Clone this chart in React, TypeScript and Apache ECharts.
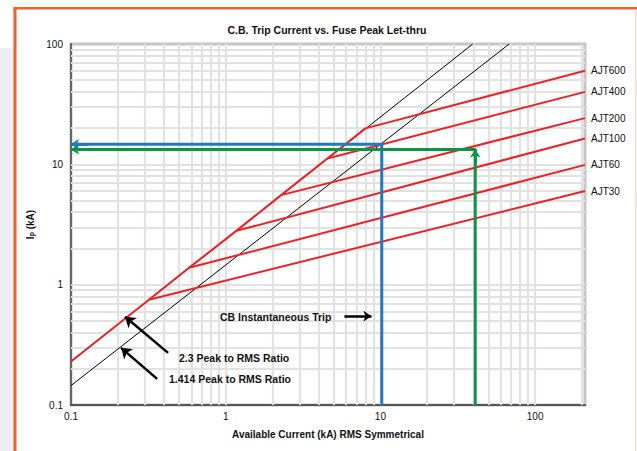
import React, { useEffect, useRef } from "react";
import * as echarts from "echarts";

// ---- data ----
const ajtNames = ["AJT600", "AJT400", "AJT200", "AJT100", "AJT60", "AJT30"];
const ajtBendX = [8.0, 4.54, 2.28, 1.17, 0.579, 0.319];
const ajtBendY = [19.9, 11.2, 5.55, 2.8, 1.38, 0.75];
const ajtEndX = 210;
const ajtEndY = [60, 40, 24.2, 16.4, 9.9, 6.0];
const envelopeStart = [0.1, 0.23];
const ratio23Line = [[0.1, 0.23], [39.5, 100]];
const ratio1414Line = [[0.1, 0.145], [68, 100]];
const blueTrip = [10.2, 14.7];
const greenTrip = [41, 13.3];
const xGridValues = [0.2, 0.3, 0.4, 0.5, 0.6, 0.7, 0.8, 0.9, 1, 2, 3, 4, 5, 6, 7, 8, 9, 10, 20, 30, 40, 50, 60, 70, 80, 90, 100, 200];
const yGridValues = [0.2, 0.3, 0.4, 0.5, 0.6, 0.7, 0.8, 0.9, 1, 2, 3, 4, 5, 6, 7, 8, 9, 10, 20, 30, 40, 50, 60, 70, 80, 90];
const arrow23 = [[0.424, 0.271], [0.2237, 0.541]];
const arrow1414 = [[0.3603, 0.1647], [0.2107, 0.2985]];
const arrowCB = [[5.85, 0.547], [8.75, 0.547]];

const FONT = "'Liberation Sans', Arial, sans-serif";
const RED = "#ec2227";
const BLUE = "#1f79c4";
const GREEN = "#0e9448";

export default function App() {
  const ref = useRef<HTMLDivElement>(null);
  useEffect(() => {
    if (!ref.current) return;
    const chart = echarts.init(ref.current, null, { renderer: "svg" });

    const envelope = [envelopeStart];
    for (let i = ajtBendX.length - 1; i >= 0; i--) envelope.push([ajtBendX[i], ajtBendY[i]]);

    const ajtSeries = ajtNames.map((name, i) => ({
      name,
      type: "line",
      z: 5,
      symbol: "none",
      data: [[ajtBendX[i], ajtBendY[i]], [ajtEndX, ajtEndY[i]]],
      lineStyle: { color: RED, width: 2 },
      endLabel: {
        show: true,
        formatter: "{a}",
        color: "#111",
        fontSize: 10,
        fontFamily: FONT,
        distance: 6,
      },
    }));

    const arrowLine = (pts: number[][], size: number) => [
      { coord: pts[0], symbol: "none" },
      { coord: pts[1], symbol: "arrow", symbolSize: size },
    ];

    const boldText = (text: string, x: number, y: number) => ({
      type: "text",
      x,
      y,
      z: 20,
      style: { text, fontFamily: FONT, fontWeight: "bold", fontSize: 10.5, fill: "#111", verticalAlign: "middle" },
    });

    chart.setOption({
      animation: false,
      backgroundColor: "#fff",
      grid: {
        left: 71,
        right: 52,
        top: 44,
        bottom: 46,
        show: true,
        borderColor: "#c6c6c6",
        borderWidth: 3,
        backgroundColor: "#fff",
      },
      xAxis: {
        type: "log",
        logBase: 10,
        min: 0.1,
        max: 210,
        name: "Available Current (kA) RMS Symmetrical",
        nameLocation: "middle",
        nameGap: 24,
        nameTextStyle: { fontFamily: FONT, fontWeight: "bold", fontSize: 10, color: "#111" },
        axisLine: { show: true, lineStyle: { color: "#555", width: 2 } },
        axisTick: { show: false },
        splitLine: { show: false },
        axisLabel: {
          fontFamily: FONT,
          fontSize: 10,
          color: "#111",
          margin: 6,
          showMaxLabel: false,
          formatter: (v: number) => String(v),
        },
      },
      yAxis: {
        type: "log",
        logBase: 10,
        min: 0.1,
        max: 100,
        name: "{a|I}{b|p}{a| (kA)}",
        nameLocation: "middle",
        nameRotate: 90,
        nameGap: 35,
        nameTextStyle: {
          fontFamily: FONT,
          color: "#111",
          rich: {
            a: { fontFamily: FONT, fontWeight: "bold", fontSize: 10, color: "#111" },
            b: { fontFamily: FONT, fontWeight: "bold", fontSize: 7, color: "#111", verticalAlign: "bottom" },
          },
        },
        axisLine: { show: true, lineStyle: { color: "#666", width: 2 } },
        axisTick: { show: false },
        splitLine: { show: false },
        axisLabel: {
          fontFamily: FONT,
          fontSize: 10,
          color: "#111",
          margin: 8,
          formatter: (v: number) => String(v),
        },
      },
      graphic: [
        { type: "rect", silent: true, shape: { x: 0, y: 48, width: 14, height: 403 }, style: { fill: "#eceef1" } },
        { type: "rect", silent: true, shape: { x: 13.5, y: 7, width: 3, height: 444 }, style: { fill: "#f0612b" } },
        { type: "rect", silent: true, shape: { x: 13.5, y: 7, width: 624, height: 2.5 }, style: { fill: "#f0612b" } },
        { type: "rect", silent: true, shape: { x: 635, y: 10, width: 1.5, height: 441 }, style: { fill: "#f6d8cf" } },
        {
          type: "text",
          x: 327,
          y: 30,
          style: {
            text: "C.B. Trip Current vs. Fuse Peak Let-thru",
            fontFamily: FONT,
            fontWeight: "bold",
            fontSize: 10.5,
            fill: "#111",
            align: "center",
            verticalAlign: "middle",
          },
        },
        boldText("CB Instantaneous Trip", 220, 317),
        boldText("2.3 Peak to RMS Ratio", 179, 358),
        boldText("1.414 Peak to RMS Ratio", 169, 379),
      ],
      series: [
        {
          name: "grid",
          type: "line",
          z: 1,
          data: [],
          markLine: {
            z: 1,
            silent: true,
            symbol: "none",
            label: { show: false },
            animation: false,
            lineStyle: { color: "#e2e2e2", width: 2.2, type: "solid" },
            data: [
              ...xGridValues.map((v) => ({ xAxis: v })),
              ...yGridValues.map((v) => ({ yAxis: v })),
            ],
          },
        },
        {
          name: "ratio1414",
          type: "line",
          z: 3,
          symbol: "none",
          data: ratio1414Line,
          lineStyle: { color: "#000", width: 1, type: "solid" },
        },
        {
          name: "ratio23",
          type: "line",
          z: 3,
          symbol: "none",
          data: ratio23Line,
          lineStyle: { color: "#000", width: 1, type: "solid" },
        },
        {
          name: "envelope",
          type: "line",
          z: 5,
          symbol: "none",
          data: envelope,
          lineStyle: { color: RED, width: 2 },
        },
        ...ajtSeries,
        {
          name: "blue",
          type: "line",
          z: 6,
          symbol: "none",
          data: [[0.1, blueTrip[1]], [blueTrip[0], blueTrip[1]], [blueTrip[0], 0.1]],
          lineStyle: { color: BLUE, width: 3 },
          markLine: {
            z: 6,
            silent: true,
            animation: false,
            label: { show: false },
            lineStyle: { color: BLUE, width: 3, type: "solid" },
            data: [arrowLine([[0.13, blueTrip[1]], [0.1, blueTrip[1]]], 8)],
          },
        },
        {
          name: "green",
          type: "line",
          z: 6,
          symbol: "none",
          data: [[0.1, greenTrip[1]], [greenTrip[0], greenTrip[1]], [greenTrip[0], 0.1]],
          lineStyle: { color: GREEN, width: 3 },
          markLine: {
            z: 6,
            silent: true,
            animation: false,
            label: { show: false },
            lineStyle: { color: GREEN, width: 3, type: "solid" },
            data: [
              arrowLine([[0.13, greenTrip[1]], [0.1, greenTrip[1]]], 8),
              arrowLine([[greenTrip[0], 10], [greenTrip[0], greenTrip[1]]], 8),
            ],
          },
        },
        {
          name: "annotations",
          type: "line",
          z: 7,
          data: [],
          markLine: {
            z: 7,
            silent: true,
            animation: false,
            label: { show: false },
            lineStyle: { color: "#000", width: 2.5, type: "solid" },
            data: [arrowLine(arrow23, 10), arrowLine(arrow1414, 10), arrowLine(arrowCB, 8)],
          },
        },
      ],
    });
    return () => chart.dispose();
  }, []);

  return (
    <div
      ref={ref}
      style={{ position: "absolute", left: 0, top: 0, width: 637, height: 451, background: "#fff" }}
    />
  );
}
